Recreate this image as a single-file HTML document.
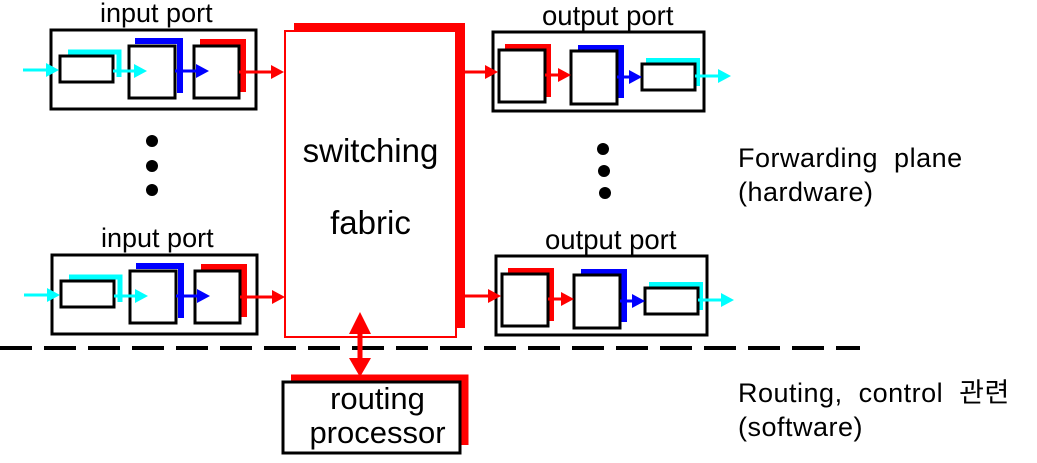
<!DOCTYPE html>
<html><head><meta charset="utf-8"><style>
html,body{margin:0;padding:0;background:#fff;width:1037px;height:463px;overflow:hidden;position:relative}
svg{position:absolute;left:0;top:0}
.t{position:absolute;font-family:"Liberation Sans",Arial,sans-serif;color:#000;white-space:nowrap;line-height:1}
.k{font-family:"Liberation Sans","Noto Sans CJK KR",sans-serif;font-size:27px;letter-spacing:0.5px}
</style></head>
<body>
<svg width="1037" height="463" viewBox="0 0 1037 463" xmlns="http://www.w3.org/2000/svg">
<g>
<rect x="51" y="30" width="205" height="79" fill="none" stroke="#000" stroke-width="3"/>
<path d="M68,52 H119 V77" fill="none" stroke="#00ffff" stroke-width="5"/>
<rect x="60" y="56" width="53" height="26" fill="#fff" stroke="#000" stroke-width="3"/>
<path d="M135,41 H180 V93" fill="none" stroke="#0000ff" stroke-width="6"/>
<rect x="129" y="46" width="46" height="52" fill="#fff" stroke="#000" stroke-width="3"/>
<path d="M200,42 H243 V92" fill="none" stroke="#ff0000" stroke-width="6"/>
<rect x="194" y="46" width="45" height="52" fill="#fff" stroke="#000" stroke-width="3"/>
<line x1="23" y1="70" x2="48" y2="70" stroke="#00ffff" stroke-width="3"/><path d="M46,63 L59,70 L46,77z" fill="#00ffff"/>
<line x1="113" y1="71" x2="136" y2="71" stroke="#00ffff" stroke-width="3"/><path d="M134,64 L147,71 L134,78z" fill="#00ffff"/>
<line x1="175" y1="71" x2="198" y2="71" stroke="#0000ff" stroke-width="3"/><path d="M196,64 L209,71 L196,78z" fill="#0000ff"/>
<line x1="239" y1="72" x2="273" y2="72" stroke="#ff0000" stroke-width="3"/><path d="M271,65 L284,72 L271,79z" fill="#ff0000"/>
</g>
<g transform="translate(1,225)">
<rect x="51" y="30" width="205" height="79" fill="none" stroke="#000" stroke-width="3"/>
<path d="M68,52 H119 V77" fill="none" stroke="#00ffff" stroke-width="5"/>
<rect x="60" y="56" width="53" height="26" fill="#fff" stroke="#000" stroke-width="3"/>
<path d="M135,41 H180 V93" fill="none" stroke="#0000ff" stroke-width="6"/>
<rect x="129" y="46" width="46" height="52" fill="#fff" stroke="#000" stroke-width="3"/>
<path d="M200,42 H243 V92" fill="none" stroke="#ff0000" stroke-width="6"/>
<rect x="194" y="46" width="45" height="52" fill="#fff" stroke="#000" stroke-width="3"/>
<line x1="23" y1="70" x2="48" y2="70" stroke="#00ffff" stroke-width="3"/><path d="M46,63 L59,70 L46,77z" fill="#00ffff"/>
<line x1="113" y1="71" x2="136" y2="71" stroke="#00ffff" stroke-width="3"/><path d="M134,64 L147,71 L134,78z" fill="#00ffff"/>
<line x1="175" y1="71" x2="198" y2="71" stroke="#0000ff" stroke-width="3"/><path d="M196,64 L209,71 L196,78z" fill="#0000ff"/>
<line x1="239" y1="72" x2="273" y2="72" stroke="#ff0000" stroke-width="3"/><path d="M271,65 L284,72 L271,79z" fill="#ff0000"/>
</g>
<g>
<rect x="493" y="32" width="211" height="79" fill="none" stroke="#000" stroke-width="3"/>
<path d="M505,47 H548 V97" fill="none" stroke="#ff0000" stroke-width="6"/>
<rect x="499" y="50" width="46" height="52" fill="#fff" stroke="#000" stroke-width="3"/>
<path d="M578,48 H621 V98" fill="none" stroke="#0000ff" stroke-width="6"/>
<rect x="571" y="51" width="46" height="53" fill="#fff" stroke="#000" stroke-width="3"/>
<path d="M646,61 H697 V86" fill="none" stroke="#00ffff" stroke-width="6"/>
<rect x="642" y="64" width="53" height="26" fill="#fff" stroke="#000" stroke-width="3"/>
<line x1="460" y1="72" x2="487" y2="72" stroke="#ff0000" stroke-width="3"/><path d="M485,65 L498,72 L485,79z" fill="#ff0000"/>
<line x1="545" y1="75" x2="560" y2="75" stroke="#ff0000" stroke-width="3"/><path d="M558,68 L571,75 L558,82z" fill="#ff0000"/>
<line x1="617" y1="77" x2="631" y2="77" stroke="#0000ff" stroke-width="3"/><path d="M629,70 L642,77 L629,84z" fill="#0000ff"/>
<line x1="695" y1="76" x2="720" y2="76" stroke="#00ffff" stroke-width="3"/><path d="M718,69 L731,76 L718,83z" fill="#00ffff"/>
</g>
<g transform="translate(3,224)">
<rect x="493" y="32" width="211" height="79" fill="none" stroke="#000" stroke-width="3"/>
<path d="M505,47 H548 V97" fill="none" stroke="#ff0000" stroke-width="6"/>
<rect x="499" y="50" width="46" height="52" fill="#fff" stroke="#000" stroke-width="3"/>
<path d="M578,48 H621 V98" fill="none" stroke="#0000ff" stroke-width="6"/>
<rect x="571" y="51" width="46" height="53" fill="#fff" stroke="#000" stroke-width="3"/>
<path d="M646,61 H697 V86" fill="none" stroke="#00ffff" stroke-width="6"/>
<rect x="642" y="64" width="53" height="26" fill="#fff" stroke="#000" stroke-width="3"/>
<line x1="457" y1="72" x2="487" y2="72" stroke="#ff0000" stroke-width="3"/><path d="M485,65 L498,72 L485,79z" fill="#ff0000"/>
<line x1="545" y1="75" x2="560" y2="75" stroke="#ff0000" stroke-width="3"/><path d="M558,68 L571,75 L558,82z" fill="#ff0000"/>
<line x1="617" y1="77" x2="631" y2="77" stroke="#0000ff" stroke-width="3"/><path d="M629,70 L642,77 L629,84z" fill="#0000ff"/>
<line x1="695" y1="76" x2="720" y2="76" stroke="#00ffff" stroke-width="3"/><path d="M718,69 L731,76 L718,83z" fill="#00ffff"/>
</g>
<path d="M294,27 H461 V328" fill="none" stroke="#ff0000" stroke-width="8"/>
<rect x="285" y="31" width="171" height="306" fill="#fff" stroke="#ff0000" stroke-width="2"/>
<circle cx="152" cy="141" r="6" fill="#000"/><circle cx="152" cy="166" r="6" fill="#000"/><circle cx="152" cy="190" r="6" fill="#000"/>
<circle cx="603" cy="149" r="6" fill="#000"/><circle cx="604" cy="171" r="6" fill="#000"/><circle cx="605" cy="193" r="6" fill="#000"/>
<line x1="0" y1="348" x2="860" y2="348" stroke="#000" stroke-width="4" stroke-dasharray="32 12"/>
<line x1="360" y1="325" x2="360" y2="366" stroke="#ff0000" stroke-width="5"/>
<path d="M349,334 L360,312 L371,334z M349,358 L360,377 L371,358z" fill="#ff0000"/>
<path d="M291,378 H465 V445" fill="none" stroke="#ff0000" stroke-width="7"/>
<rect x="283" y="382" width="177" height="71" fill="#fff" stroke="#000" stroke-width="3"/>
</svg>
<div class="t" style="left:100px;top:0px;font-size:27px">input port</div>
<div class="t" style="left:101px;top:225px;font-size:27px">input port</div>
<div class="t" style="left:542px;top:2px;font-size:27.5px">output port</div>
<div class="t" style="left:545px;top:226px;font-size:27.5px">output port</div>
<div class="t" style="left:285px;top:134px;width:171px;text-align:center;font-size:33px">switching</div>
<div class="t" style="left:285px;top:206px;width:171px;text-align:center;font-size:33px">fabric</div>
<div class="t" style="left:289px;top:383px;width:177px;text-align:center;font-size:31px">routing</div>
<div class="t" style="left:289px;top:417px;width:177px;text-align:center;font-size:31px">processor</div>
<div class="t k" style="left:738px;top:145px">Forwarding&nbsp; plane</div>
<div class="t k" style="left:738px;top:179px">(hardware)</div>
<div class="t k" style="left:738px;top:380px">Routing,&nbsp; control&nbsp; 관련</div>
<div class="t k" style="left:738px;top:414px">(software)</div>
</body></html>
